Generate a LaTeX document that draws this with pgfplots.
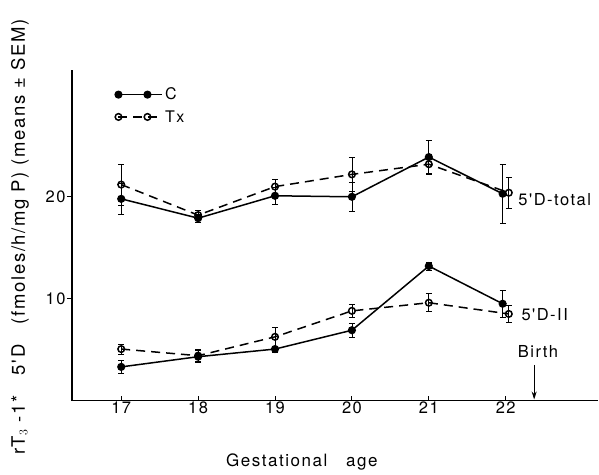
\documentclass[border=0pt]{standalone}
\usepackage{fontspec}
\setmainfont{TeX Gyre Heros}
\newfontfamily\lsp[LetterSpace=9]{TeX Gyre Heros}
\usepackage{pgfplots}
\pgfplotsset{compat=1.18}
\usepackage{pgfplotstable}
\usetikzlibrary{arrows.meta}

% x, mean, SEM
\pgfplotstableread{
x     y     e
17    19.8  1.5
18    17.9  0.4
19    20.1  0.8
20    20.0  1.4
21    23.9  1.6
21.96 20.3  2.9
}\ctotal
\pgfplotstableread{
x     y     e
17    21.2  2.0
18    18.2  0.5
19    21.0  0.7
20    22.2  1.7
21    23.2  1.0
22.04 20.4  1.5
}\txtotal
\pgfplotstableread{
x     y     e
17    3.3   0.6
18    4.3   0.6
19    5.05  0.3
20    6.9   0.7
21    13.2  0.4
21.96 9.5   1.3
}\cii
\pgfplotstableread{
x     y     e
17    5.05  0.5
18    4.4   0.6
19    6.25  0.9
20    8.8   0.6
21    9.6   0.9
22.04 8.5   0.8
}\txii

\begin{document}
\begin{tikzpicture}
\path[use as bounding box] (-72pt,-73.5pt) rectangle (527pt,400.5pt);
\begin{axis}[
    at={(0,0)}, anchor=south west,
    scale only axis,
    width=526pt, height=330pt,
    xmin=16.36, xmax=23.2,
    ymin=0, ymax=32.4,
    axis lines*=left,
    axis line style={line width=1.1pt},
    xtick={17,18,19,20,21,22},
    ytick={10,20},
    tick align=inside,
    major tick length=5pt,
    tick style={line width=0.9pt, black},
    ytick style={xshift=-5pt},
    /pgf/number format/assume math mode=true,
    tick label style={font=\lsp\fontsize{16.5}{19}\selectfont},
    xticklabel style={yshift=2pt},
    yticklabel style={xshift=-3pt},
    xlabel={Gestational\ \ \ age},
    xlabel style={at={(rel axis cs:0.437,-0.186)}, anchor=center,
        font=\lsp\fontsize{17}{20}\selectfont},
    ylabel={rT$_3$ -1* \ \ 5'D \ \ (fmoles/h/mg P) (means ± SEM)},
    ylabel style={at={(rel axis cs:-0.099,0.495)}, anchor=center,
        font=\lsp\fontsize{18.5}{21}\selectfont},
    legend style={draw=none, fill=none, at={(rel axis cs:0.076,0.96)},
        anchor=north west, font=\lsp\fontsize{16}{19}\selectfont,
        row sep=5pt},
    legend cell align=left,
    legend image code/.code={%
        \path (0pt,0pt) -- (44pt,0pt);
        \draw[mark repeat=1,#1] plot coordinates {(0pt,0pt) (29pt,0pt)};},
    error bars/error bar style={line width=0.8pt, solid},
    error bars/error mark options={rotate=90, mark size=3pt, line width=0.8pt, solid},
]
\addplot[black, line width=1.5pt, mark=*, mark size=3.3pt,
    error bars/.cd, y dir=both, y explicit]
    table[x=x, y=y, y error=e] {\ctotal};
\addplot[black, line width=1.5pt, dash pattern=on 9pt off 6pt,
    mark=o, mark size=3.3pt, mark options={solid, fill=white},
    error bars/.cd, y dir=both, y explicit]
    table[x=x, y=y, y error=e] {\txtotal};
\addplot[black, line width=1.5pt, mark=*, mark size=3.3pt, forget plot,
    error bars/.cd, y dir=both, y explicit]
    table[x=x, y=y, y error=e] {\cii};
\addplot[black, line width=1.5pt, dash pattern=on 9pt off 6pt, forget plot,
    mark=o, mark size=3.3pt, mark options={solid, fill=white},
    error bars/.cd, y dir=both, y explicit]
    table[x=x, y=y, y error=e] {\txii};
\legend{C, Tx}

\node[anchor=west, font=\lsp\fontsize{16.5}{19}\selectfont] at (axis cs:22.12,19.7) {5'D-total};
\node[anchor=west, font=\lsp\fontsize{16.5}{19}\selectfont] at (axis cs:22.16,8.4) {5'D-II};
\node[font=\lsp\fontsize{16.5}{19}\selectfont] at (axis cs:22.42,4.85) {Birth};
\draw[line width=1pt, -{Stealth[length=8pt,width=5pt]}] (axis cs:22.37,3.5) -- (axis cs:22.37,0.1);
\end{axis}
\end{tikzpicture}
\end{document}
